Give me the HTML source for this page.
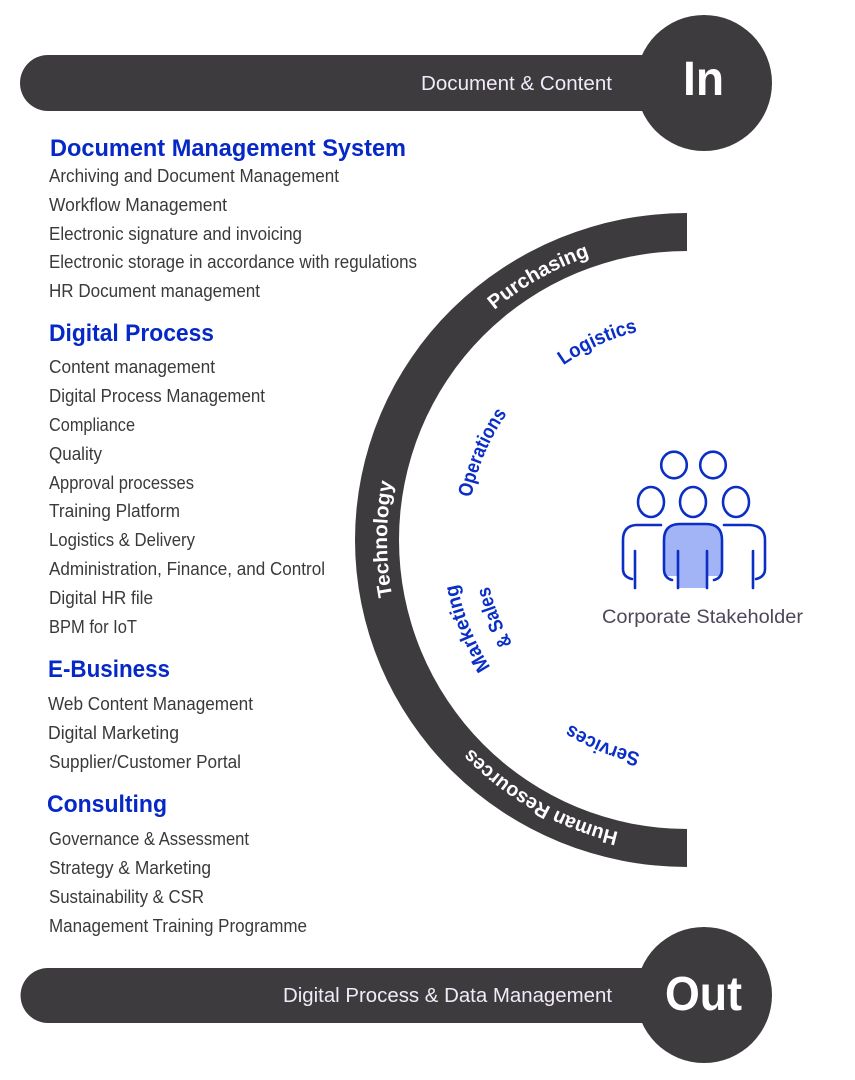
<!DOCTYPE html>
<html><head><meta charset="utf-8"><style>
html,body{margin:0;padding:0;background:#fff;}
svg{display:block;}
.it{font-family:"Liberation Sans",sans-serif;font-size:18px;fill:#3a3a3a;}
.tt{font-family:"Liberation Sans",sans-serif;font-size:24px;font-weight:bold;fill:#0628c6;}
.bl{font-family:"Liberation Sans",sans-serif;font-size:20px;font-weight:bold;fill:#ffffff;}
.il{font-family:"Liberation Sans",sans-serif;font-size:20px;font-weight:bold;fill:#0a2fc8;}
</style></head><body>
<svg width="855" height="1080" viewBox="0 0 855 1080" xmlns="http://www.w3.org/2000/svg">
<defs>
<path id="bandp" d="M 687 840 A 300 300 0 0 1 687 240"/>
<path id="innp" d="M 687 754 A 214 214 0 0 1 687 326"/>
<path id="opp" d="M 687 760 A 220 220 0 0 1 687 320"/>
<path id="svp" d="M 687 758 A 218 218 0 0 1 687 322"/>
<path id="mkp" d="M 687 774 A 234 234 0 0 1 687 306"/>
<path id="slp" d="M 687 743 A 203 203 0 0 1 687 337"/>
</defs>

<!-- Top bar -->
<path d="M 48 55 L 704 55 L 704 111 L 48 111 A 28 28 0 0 1 48 55 Z" fill="#3d3b3e"/>
<circle cx="704" cy="83" r="68" fill="#3d3b3e"/>
<text x="421" y="90" font-family="Liberation Sans, sans-serif" font-size="20" fill="#f1eaf8" textLength="191" lengthAdjust="spacingAndGlyphs">Document &amp; Content</text>
<text x="683" y="95" font-family="Liberation Sans, sans-serif" font-size="48" font-weight="bold" fill="#fff" textLength="41" lengthAdjust="spacingAndGlyphs">In</text>

<!-- Bottom bar -->
<path d="M 48 968 L 704 968 L 704 1023 L 48 1023 A 27.5 27.5 0 0 1 48 968 Z" fill="#3d3b3e"/>
<circle cx="704" cy="995" r="68" fill="#3d3b3e"/>
<text x="283" y="1002" font-family="Liberation Sans, sans-serif" font-size="20" fill="#f1eaf8" textLength="329" lengthAdjust="spacingAndGlyphs">Digital Process &amp; Data Management</text>
<text x="665" y="1010" font-family="Liberation Sans, sans-serif" font-size="48" font-weight="bold" fill="#fff" textLength="77" lengthAdjust="spacingAndGlyphs">Out</text>

<!-- Left list -->
<text class="tt" x="50" y="156" textLength="356" lengthAdjust="spacingAndGlyphs">Document Management System</text>
<text class="it" x="49" y="182" textLength="290" lengthAdjust="spacingAndGlyphs">Archiving and Document Management</text>
<text class="it" x="49" y="211" textLength="178" lengthAdjust="spacingAndGlyphs">Workflow Management</text>
<text class="it" x="49" y="240" textLength="253" lengthAdjust="spacingAndGlyphs">Electronic signature and invoicing</text>
<text class="it" x="49" y="268" textLength="368" lengthAdjust="spacingAndGlyphs">Electronic storage in accordance with regulations</text>
<text class="it" x="49" y="297" textLength="211" lengthAdjust="spacingAndGlyphs">HR Document management</text>

<text class="tt" x="49" y="341" textLength="165" lengthAdjust="spacingAndGlyphs">Digital Process</text>
<text class="it" x="49" y="373" textLength="166" lengthAdjust="spacingAndGlyphs">Content management</text>
<text class="it" x="49" y="402" textLength="216" lengthAdjust="spacingAndGlyphs">Digital Process Management</text>
<text class="it" x="49" y="431" textLength="86" lengthAdjust="spacingAndGlyphs">Compliance</text>
<text class="it" x="49" y="460" textLength="53" lengthAdjust="spacingAndGlyphs">Quality</text>
<text class="it" x="49" y="489" textLength="145" lengthAdjust="spacingAndGlyphs">Approval processes</text>
<text class="it" x="49" y="517" textLength="131" lengthAdjust="spacingAndGlyphs">Training Platform</text>
<text class="it" x="49" y="546" textLength="146" lengthAdjust="spacingAndGlyphs">Logistics &amp; Delivery</text>
<text class="it" x="49" y="575" textLength="276" lengthAdjust="spacingAndGlyphs">Administration, Finance, and Control</text>
<text class="it" x="49" y="604" textLength="104" lengthAdjust="spacingAndGlyphs">Digital HR file</text>
<text class="it" x="49" y="633" textLength="88" lengthAdjust="spacingAndGlyphs">BPM for IoT</text>

<text class="tt" x="48" y="677" textLength="122" lengthAdjust="spacingAndGlyphs">E-Business</text>
<text class="it" x="48" y="710" textLength="205" lengthAdjust="spacingAndGlyphs">Web Content Management</text>
<text class="it" x="48" y="739" textLength="131" lengthAdjust="spacingAndGlyphs">Digital Marketing</text>
<text class="it" x="49" y="768" textLength="192" lengthAdjust="spacingAndGlyphs">Supplier/Customer Portal</text>

<text class="tt" x="47" y="812" textLength="120" lengthAdjust="spacingAndGlyphs">Consulting</text>
<text class="it" x="49" y="845" textLength="200" lengthAdjust="spacingAndGlyphs">Governance &amp; Assessment</text>
<text class="it" x="49" y="874" textLength="162" lengthAdjust="spacingAndGlyphs">Strategy &amp; Marketing</text>
<text class="it" x="49" y="903" textLength="155" lengthAdjust="spacingAndGlyphs">Sustainability &amp; CSR</text>
<text class="it" x="49" y="932" textLength="258" lengthAdjust="spacingAndGlyphs">Management Training Programme</text>

<!-- Arc band -->
<path d="M 687 213 A 332 327 0 0 0 687 867 L 687 829 A 288 289 0 0 1 687 251 Z" fill="#3d3b3e"/>
<text class="bl"><textPath href="#bandp" startOffset="155" text-anchor="middle" textLength="172" lengthAdjust="spacingAndGlyphs">Human Resources</textPath></text>
<text class="bl"><textPath href="#bandp" startOffset="472" text-anchor="middle" textLength="115" lengthAdjust="spacingAndGlyphs">Technology</textPath></text>
<text class="bl"><textPath href="#bandp" startOffset="788" text-anchor="middle" textLength="110" lengthAdjust="spacingAndGlyphs">Purchasing</textPath></text>

<!-- Inner labels -->
<text class="il"><textPath href="#svp" startOffset="85" text-anchor="middle" textLength="76" lengthAdjust="spacingAndGlyphs">Services</textPath></text>
<text class="il"><textPath href="#opp" startOffset="434" text-anchor="middle" textLength="92" lengthAdjust="spacingAndGlyphs">Operations</textPath></text>
<text class="il"><textPath href="#innp" startOffset="581" text-anchor="middle" textLength="82" lengthAdjust="spacingAndGlyphs">Logistics</textPath></text>
<text class="il"><textPath href="#mkp" startOffset="278" text-anchor="middle" textLength="90" lengthAdjust="spacingAndGlyphs">Marketing</textPath></text>
<text class="il"><textPath href="#slp" startOffset="241" text-anchor="middle" textLength="62" lengthAdjust="spacingAndGlyphs">&amp; Sales</textPath></text>

<!-- People icon -->
<g fill="none" stroke="#0b2fc4" stroke-width="2.6" stroke-linecap="round" stroke-linejoin="round">
  <ellipse cx="674" cy="465" rx="12.8" ry="13.3"/>
  <ellipse cx="713" cy="465" rx="12.8" ry="13.3"/>
  <ellipse cx="651" cy="502" rx="13" ry="15"/>
  <ellipse cx="693" cy="502" rx="13" ry="15"/>
  <ellipse cx="736" cy="502" rx="13" ry="15"/>
</g>
<path d="M 678 525 L 707 525 Q 722 525 722 540 L 722 576 L 707 576 L 707 588 L 678 588 L 678 576 L 664 576 L 664 540 Q 664 525 678 525 Z" fill="#a2b3f6"/>
<g fill="none" stroke="#0b2fc4" stroke-width="2.6" stroke-linecap="round" stroke-linejoin="round">
  <path d="M 661 525 L 636 525 Q 623 526 623 540 L 623 569 Q 623 577 632 579"/>
  <path d="M 635 551 L 635 588"/>
  <path d="M 672 580 Q 664 578 664 569 L 664 540 Q 664 524 680 524 L 706 524 Q 722 524 722 540 L 722 569 Q 722 578 714 580"/>
  <path d="M 678 551 L 678 588"/>
  <path d="M 707 551 L 707 588"/>
  <path d="M 724 525 L 750 525 Q 765 526 765 540 L 765 569 Q 765 577 756 579"/>
  <path d="M 753 551 L 753 588"/>
</g>
<text x="602" y="623" font-family="Liberation Sans, sans-serif" font-size="19" fill="#4e4759" textLength="201" lengthAdjust="spacingAndGlyphs">Corporate Stakeholder</text>
</svg>
</body></html>
